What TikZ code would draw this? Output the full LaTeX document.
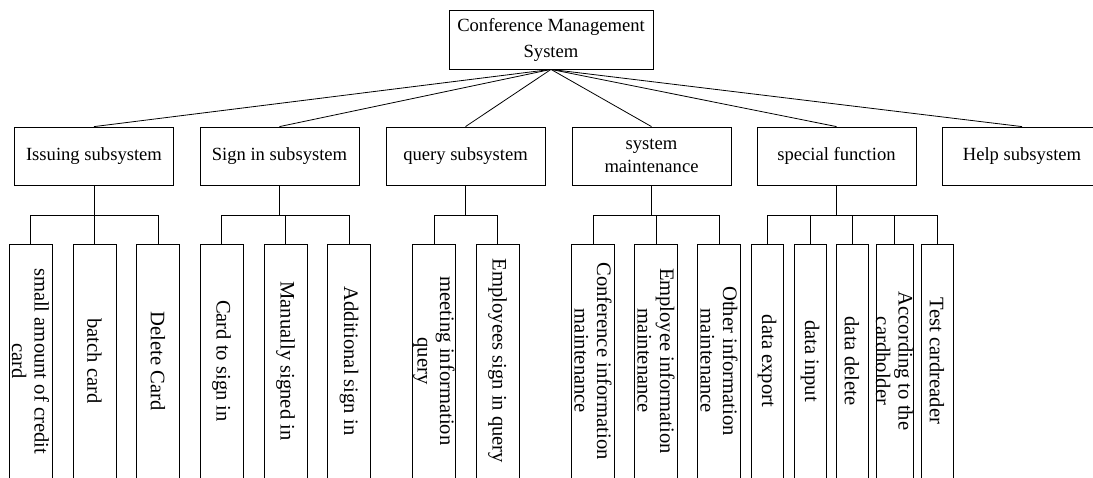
\documentclass[tikz,border=0pt]{standalone}
\usepackage{fontspec}
\setmainfont{Liberation Serif}
\usetikzlibrary{calc}

\begin{document}
\begin{tikzpicture}[x=1pt, y=-1pt, line width=.8pt,
  every node/.style={font=\fontsize{18.6}{23}\selectfont},
  topbox/.style={draw, align=center, inner sep=0pt, minimum width=204pt, minimum height=59pt,
    font=\fontsize{18.6}{26}\selectfont},
  subbox/.style={draw, align=center, inner sep=0pt, minimum width=159pt, minimum height=58pt},
  leafbox/.style={draw, align=center, inner sep=0pt, rotate=-90, minimum width=234pt, minimum height=43pt,
    font=\fontsize{20.6}{22.5}\selectfont},
  thinleaf/.style={leafbox, minimum height=32pt}]

  \useasboundingbox (0,0) rectangle (1093,477);
  \clip (0,0) rectangle (1093,477);

  \coordinate (bus) at (0,215);

  \node[topbox] (cms) at (551,39.5) {Conference Management\\System};

  \node[subbox] (iss)   at (94,156)    {Issuing subsystem};
  \node[subbox] (sign)  at (279.5,156) {Sign in subsystem};
  \node[subbox] (query) at (465.5,156) {query subsystem};
  \node[subbox] (maint) at (651.5,156) {system\\maintenance};
  \node[subbox] (spec)  at (836.5,156) {special function};
  \node[subbox] (help)  at (1022,156)  {Help subsystem};

  \node[leafbox] (iss1) at (30.5,361) {small amount of credit\\card};
  \node[leafbox] (iss2) at (94.5,361) {batch card};
  \node[leafbox] (iss3) at (158,361)  {Delete Card};

  \node[leafbox] (sign1) at (221.5,361) {Card to sign in};
  \node[leafbox] (sign2) at (285.5,361) {Manually signed in};
  \node[leafbox] (sign3) at (349,361)   {Additional sign in};

  \node[leafbox] (query1) at (434,361)   {meeting information\\query};
  \node[leafbox] (query2) at (497.5,361) {Employees sign in query};

  \node[leafbox] (maint1) at (593,361) {Conference information\\maintenance};
  \node[leafbox] (maint2) at (656,361) {Employee information\\maintenance};
  \node[leafbox] (maint3) at (719,361) {Other information\\maintenance};

  \node[thinleaf] (spec1) at (767,361)   {data export};
  \node[thinleaf] (spec2) at (810,361)   {data input};
  \node[thinleaf] (spec3) at (852,361)   {data delete};
  \node[thinleaf] (spec4) at (894.5,361) {According to the\\cardholder};
  \node[thinleaf] (spec5) at (937,361)   {Test cardreader};

  % root to subsystems
  \draw (cms.south) -- (iss.north);
  \draw (cms.south) -- (sign.north);
  \draw (cms.south) -- (query.north);
  \draw (cms.south) -- (maint.north);
  \draw (cms.south) -- (spec.north);
  \draw (cms.south) -- (help.north);

  % subsystems to functions
  \draw (iss.south) -- (iss.south |- bus);
  \draw (iss1.west) |- (iss.south |- bus);
  \draw (iss2.west) |- (iss.south |- bus);
  \draw (iss3.west) |- (iss.south |- bus);

  \draw (sign.south) -- (sign.south |- bus);
  \draw (sign1.west) |- (sign.south |- bus);
  \draw (sign2.west) |- (sign.south |- bus);
  \draw (sign3.west) |- (sign.south |- bus);

  \draw (query.south) -- (query.south |- bus);
  \draw (query1.west) |- (query.south |- bus);
  \draw (query2.west) |- (query.south |- bus);

  \draw (maint.south) -- (maint.south |- bus);
  \draw (maint1.west) |- (maint.south |- bus);
  \draw (maint2.west) |- (maint.south |- bus);
  \draw (maint3.west) |- (maint.south |- bus);

  \draw (spec.south) -- (spec.south |- bus);
  \draw (spec1.west) |- (spec.south |- bus);
  \draw (spec2.west) |- (spec.south |- bus);
  \draw (spec3.west) |- (spec.south |- bus);
  \draw (spec4.west) |- (spec.south |- bus);
  \draw (spec5.west) |- (spec.south |- bus);

\end{tikzpicture}
\end{document}
